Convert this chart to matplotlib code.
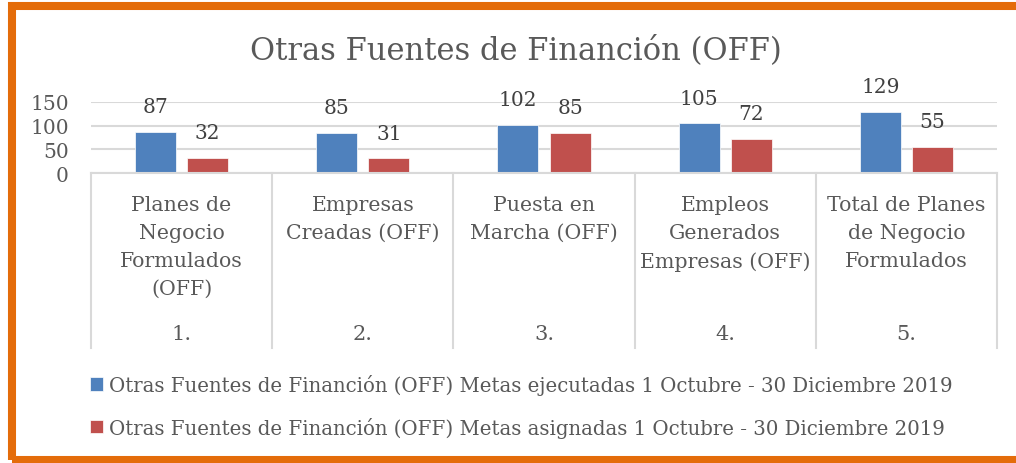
import matplotlib.pyplot as plt
import matplotlib.transforms as mtransforms
from matplotlib.patches import Rectangle

# datos
categorias = ['Planes de\nNegocio\nFormulados\n(OFF)',
              'Empresas\nCreadas (OFF)',
              'Puesta en\nMarcha (OFF)',
              'Empleos\nGenerados\nEmpresas (OFF)',
              'Total de Planes\nde Negocio\nFormulados']
numeros = ['1.', '2.', '3.', '4.', '5.']
ejecutadas = [87, 85, 102, 105, 129]
asignadas = [32, 31, 85, 72, 55]
nombre_ejec = 'Otras Fuentes de Financión (OFF) Metas ejecutadas 1 Octubre - 30 Diciembre 2019'
nombre_asig = 'Otras Fuentes de Financión (OFF) Metas asignadas 1 Octubre - 30 Diciembre 2019'

plt.rcParams['font.family'] = ['DejaVu Serif']

W, H = 1016, 464
fig = plt.figure(figsize=(W / 100, H / 100), dpi=100)


def fx(px):
    return px / W


def fy(py):
    return 1 - py / H


ax = fig.add_axes([fx(91), fy(174), fx(997) - fx(91), (174 - 103) / H])

x = range(len(categorias))
ancho = 0.227
off = 0.144
b1 = ax.bar([i - off for i in x], ejecutadas, ancho, color='#4F81BD', edgecolor='white', linewidth=0.5,
            label=nombre_ejec)
b2 = ax.bar([i + off for i in x], asignadas, ancho, color='#C0504D', edgecolor='white', linewidth=0.5,
            label=nombre_asig)

for barras in (b1, b2):
    for r in barras:
        ax.annotate(str(int(r.get_height())), (r.get_x() + r.get_width() / 2, r.get_height()),
                    xytext=(0, 18), textcoords='offset points', ha='center', va='center',
                    fontsize=14.5, color='#404040', annotation_clip=False)

ax.set_xlim(-0.5, len(categorias) - 0.5)
ax.set_ylim(0, 150)
ax.set_yticks([0, 50, 100, 150])
ax.tick_params(axis='y', length=0, pad=16, labelsize=14.5, labelcolor='#595959')
ax.set_xticks([])
ax.grid(axis='y', color='#D9D9D9', linewidth=1.5)
ax.set_axisbelow(True)
for s in ['top', 'right', 'left']:
    ax.spines[s].set_visible(False)
ax.spines['bottom'].set_color('#D9D9D9')
ax.spines['bottom'].set_linewidth(1.5)

# tabla de categorías bajo el eje
trans = mtransforms.blended_transform_factory(ax.transData, fig.transFigure)
for i in range(len(categorias) + 1):
    ax.plot([i - 0.5, i - 0.5], [fy(174), fy(349)], color='#D9D9D9', lw=1.5,
            transform=trans, clip_on=False)
for i, (c, n) in enumerate(zip(categorias, numeros)):
    ax.text(i, fy(196), c, transform=trans, ha='center', va='top', fontsize=14.8,
            color='#595959', linespacing=1.6)
    ax.text(i, fy(334), n, transform=trans, ha='center', va='center', fontsize=15,
            color='#595959')

fig.text(fx(516), fy(51), 'Otras Fuentes de Financión (OFF)', ha='center', va='center',
         fontsize=22, color='#595959')

fig.legend(handles=[b1, b2], loc='upper left', bbox_to_anchor=(fx(72), fy(357)), frameon=False,
           fontsize=14.25, handlelength=0.67, handleheight=0.67, handletextpad=0.3,
           labelspacing=1.1, labelcolor='#595959')

# marco naranja
fig.patches.append(Rectangle((fx(12), fy(461)), fx(1040) - fx(12), fy(6.5) - fy(461),
                             transform=fig.transFigure, fill=False, edgecolor='#E46C0A',
                             linewidth=5.8, figure=fig))

fig.savefig('out.png', dpi=100)
